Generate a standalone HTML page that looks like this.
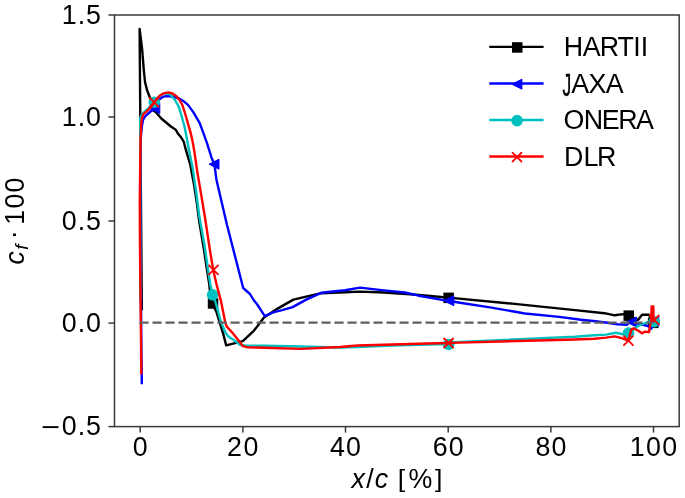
<!DOCTYPE html>
<html><head><meta charset="utf-8"><style>
html,body{margin:0;padding:0;background:#fff;}
body{width:685px;height:498px;overflow:hidden;font-family:"Liberation Sans",sans-serif;}
svg{display:block;will-change:transform;}
</style></head><body>
<svg width="685" height="498" viewBox="0 0 685 498">
<rect x="0" y="0" width="685" height="498" fill="#fff"/>
<polyline points="141.8,309.0 139.6,29.0 142.2,50.0 143.8,70.0 145.0,82.0 147.0,90.0 149.5,96.5 150.6,99.5 152.5,110.0 156.0,112.2 161.3,118.5 166.1,122.5 170.9,126.5 175.7,129.7 178.1,133.8 181.4,137.8 183.8,141.8 185.4,148.2 187.8,156.3 190.2,164.3 191.6,172.0 194.1,185.1 196.9,203.4 199.0,220.0 201.5,235.0 204.0,250.0 207.0,270.0 209.1,283.0 211.2,303.2 216.1,310.9 219.6,322.2 223.1,333.4 226.2,345.4 242.8,341.1 254.0,330.6 264.0,317.6 277.6,308.6 293.4,299.6 306.2,296.6 321.2,293.2 345.0,292.3 360.1,291.6 383.8,292.5 410.0,294.3 427.6,295.7 448.6,297.6 514.6,303.9 575.0,310.1 604.5,313.2 614.6,315.3 623.0,314.1 628.8,315.6 638.0,320.0 642.0,314.8 649.0,314.8 653.3,321.8" fill="none" stroke="#000" stroke-width="2.4" stroke-linejoin="round" stroke-linecap="square"/>
<rect x="207.8" y="298.2" width="10.5" height="10.5" fill="#000"/>
<rect x="443.4" y="292.6" width="10.5" height="10.5" fill="#000"/>
<rect x="623.5" y="310.4" width="10.5" height="10.5" fill="#000"/>
<rect x="647.9" y="317.6" width="10.5" height="10.5" fill="#000"/>
<polyline points="141.8,383.0 141.3,340.0 140.5,250.0 140.3,180.0 140.6,140.0 141.8,126.5 143.0,120.0 145.4,116.0 150.0,112.0 154.5,108.0 157.0,102.0 159.8,99.0 163.0,96.8 166.1,96.1 170.0,96.2 174.0,97.0 179.1,98.5 184.4,101.8 188.0,104.9 193.3,112.1 199.6,122.9 202.3,130.1 206.9,142.8 211.4,157.2 214.4,164.4 216.5,180.0 227.0,225.0 243.2,288.0 250.0,294.0 253.6,300.0 256.9,304.0 264.8,316.1 273.1,312.4 282.1,310.1 292.6,307.1 306.2,299.6 321.2,292.8 345.0,290.2 360.1,287.6 383.8,290.4 404.8,292.5 418.8,295.7 445.0,300.4 449.5,301.0 460.0,302.7 490.0,307.4 525.0,313.5 559.2,316.9 581.1,319.8 595.7,321.3 607.4,322.7 617.6,324.2 626.4,324.9 631.0,321.6 640.0,324.0 648.0,326.0 651.0,329.0 655.5,320.0" fill="none" stroke="#0000ff" stroke-width="2.4" stroke-linejoin="round" stroke-linecap="square"/>
<polygon points="149.8,108.5 159.8,103.5 159.8,113.5" fill="#00f" stroke="#00f" stroke-width="1" stroke-linejoin="miter"/>
<polygon points="209.0,164.2 219.0,159.2 219.0,169.2" fill="#00f" stroke="#00f" stroke-width="1" stroke-linejoin="miter"/>
<polygon points="443.8,300.7 453.8,295.7 453.8,305.7" fill="#00f" stroke="#00f" stroke-width="1" stroke-linejoin="miter"/>
<polygon points="626.5,322.0 636.5,317.0 636.5,327.0" fill="#00f" stroke="#00f" stroke-width="1" stroke-linejoin="miter"/>
<polygon points="648.8,321.3 658.8,316.3 658.8,326.3" fill="#00f" stroke="#00f" stroke-width="1" stroke-linejoin="miter"/>
<polyline points="140.3,300.0 140.2,200.0 140.2,118.0 141.5,115.2 143.6,112.6 148.5,108.2 154.3,102.2 159.0,96.5 163.0,93.8 167.0,93.3 170.0,94.5 174.3,99.0 177.7,104.7 179.6,109.0 181.9,117.3 184.7,127.2 186.8,138.4 188.9,149.7 192.7,168.3 196.2,192.2 199.1,215.0 204.1,243.1 208.3,271.2 210.4,285.0 212.6,294.8 216.1,303.9 221.0,322.2 225.2,332.0 228.0,336.2 234.4,340.4 240.0,344.7 245.6,345.8 265.0,345.8 300.0,346.5 340.0,347.5 357.0,347.0 392.0,345.5 427.0,344.5 448.6,344.0 455.0,342.1 575.0,336.8 594.0,335.2 606.0,334.6 615.8,332.8 623.0,334.2 628.5,333.0 638.0,326.0 648.0,322.0 654.8,321.3" fill="none" stroke="#00bfbf" stroke-width="2.4" stroke-linejoin="round" stroke-linecap="square"/>
<circle cx="154.3" cy="102.2" r="5.8" fill="#00bfbf"/>
<circle cx="212.6" cy="294.8" r="5.8" fill="#00bfbf"/>
<circle cx="448.6" cy="344.5" r="5.8" fill="#00bfbf"/>
<circle cx="628.5" cy="333.0" r="5.8" fill="#00bfbf"/>
<circle cx="654.3" cy="321.7" r="5.8" fill="#00bfbf"/>
<polyline points="141.3,373.4 141.0,340.0 140.0,250.0 139.8,200.0 140.5,140.0 140.9,132.0 141.2,123.5 142.0,117.7 143.4,114.1 146.3,111.6 150.6,107.6 154.2,102.3 157.0,98.5 160.0,95.5 164.0,93.3 168.5,92.4 172.5,93.5 176.7,96.5 179.5,100.0 182.3,104.8 185.4,114.5 188.2,124.4 191.0,134.2 193.1,144.0 194.9,155.0 197.0,170.0 201.1,194.1 205.1,218.2 209.9,250.0 213.2,269.8 216.7,285.0 221.0,301.1 225.2,322.2 226.6,326.4 233.0,333.4 238.6,340.4 242.8,346.1 247.0,347.2 265.0,347.8 300.0,348.9 340.0,347.0 357.5,345.5 392.6,344.5 427.6,343.5 448.6,343.0 460.0,342.6 575.0,339.5 594.1,338.8 606.1,337.6 614.6,336.4 621.8,338.2 628.3,340.5 631.3,329.6 633.7,328.4 638.0,330.5 642.1,333.2 645.1,331.6 649.1,332.1 650.1,324.6 651.3,321.0 651.6,306.5 653.3,306.5 653.6,321.0" fill="none" stroke="#ff0000" stroke-width="2.4" stroke-linejoin="round" stroke-linecap="square"/>
<path d="M149.7,97.8L158.7,106.8M149.7,106.8L158.7,97.8" stroke="#f00" stroke-width="1.8" stroke-linecap="round" fill="none"/>
<path d="M209.0,265.3L218.0,274.3M209.0,274.3L218.0,265.3" stroke="#f00" stroke-width="1.8" stroke-linecap="round" fill="none"/>
<path d="M444.1,338.5L453.1,347.5M444.1,347.5L453.1,338.5" stroke="#f00" stroke-width="1.8" stroke-linecap="round" fill="none"/>
<path d="M623.9,336.1L632.9,345.1M623.9,345.1L632.9,336.1" stroke="#f00" stroke-width="1.8" stroke-linecap="round" fill="none"/>
<path d="M649.8,315.5L658.8,324.5M649.8,324.5L658.8,315.5" stroke="#f00" stroke-width="1.8" stroke-linecap="round" fill="none"/>
<line x1="139.5" y1="322.6" x2="653.5" y2="322.6" stroke="#5f5f5f" stroke-width="2.3" stroke-dasharray="9.1 3.9"/>
<rect x="114.5" y="15.0" width="564.7" height="411.6" fill="none" stroke="#3a3a3a" stroke-width="1.5"/>
<line x1="140.2" y1="426.6" x2="140.2" y2="432.6" stroke="#3a3a3a" stroke-width="1.5"/>
<line x1="242.9" y1="426.6" x2="242.9" y2="432.6" stroke="#3a3a3a" stroke-width="1.5"/>
<line x1="345.5" y1="426.6" x2="345.5" y2="432.6" stroke="#3a3a3a" stroke-width="1.5"/>
<line x1="448.2" y1="426.6" x2="448.2" y2="432.6" stroke="#3a3a3a" stroke-width="1.5"/>
<line x1="550.9" y1="426.6" x2="550.9" y2="432.6" stroke="#3a3a3a" stroke-width="1.5"/>
<line x1="653.5" y1="426.6" x2="653.5" y2="432.6" stroke="#3a3a3a" stroke-width="1.5"/>
<line x1="108.5" y1="15.0" x2="114.5" y2="15.0" stroke="#3a3a3a" stroke-width="1.5"/>
<line x1="108.5" y1="117.0" x2="114.5" y2="117.0" stroke="#3a3a3a" stroke-width="1.5"/>
<line x1="108.5" y1="221.0" x2="114.5" y2="221.0" stroke="#3a3a3a" stroke-width="1.5"/>
<line x1="108.5" y1="323.1" x2="114.5" y2="323.1" stroke="#3a3a3a" stroke-width="1.5"/>
<line x1="108.5" y1="426.6" x2="114.5" y2="426.6" stroke="#3a3a3a" stroke-width="1.5"/>
<line x1="489.3" y1="46.9" x2="543.6" y2="46.9" stroke="#000" stroke-width="2.4"/>
<line x1="489.3" y1="83.45" x2="543.6" y2="83.45" stroke="#0000ff" stroke-width="2.4"/>
<line x1="489.3" y1="120.0" x2="543.6" y2="120.0" stroke="#00bfbf" stroke-width="2.4"/>
<line x1="489.3" y1="156.55" x2="543.6" y2="156.55" stroke="#ff0000" stroke-width="2.4"/>
<rect x="512.0" y="42.2" width="10.5" height="10.5" fill="#000"/>
<polygon points="511.9,84.2 521.9,79.2 521.9,89.2" fill="#00f" stroke="#00f" stroke-width="1" stroke-linejoin="miter"/>
<circle cx="517.1" cy="120.6" r="5.8" fill="#00bfbf"/>
<path d="M512.5,152.6L521.5,161.6M512.5,161.6L521.5,152.6" stroke="#f00" stroke-width="1.8" stroke-linecap="round" fill="none"/>
<g font-family="Liberation Sans, sans-serif" fill="#000">
<text x="61.72 77.65 85.90" y="23.50" font-size="26.8">1.5</text>
<text x="61.72 77.65 85.99" y="125.50" font-size="26.8">1.0</text>
<text x="61.85 77.65 85.90" y="229.50" font-size="26.8">0.5</text>
<text x="61.85 77.65 85.99" y="331.60" font-size="26.8">0.0</text>
<text x="61.85 77.65 85.90" y="435.10" font-size="26.8">0.5</text>
<text transform="translate(50.67,436.08) scale(1.216,1)" x="-7.83" y="0" font-size="26.8">−</text>
<text x="132.74" y="456.40" font-size="26.8">0</text>
<text x="227.06 243.49" y="456.40" font-size="26.8">20</text>
<text x="329.99 346.09" y="456.40" font-size="26.8">40</text>
<text x="432.69 448.79" y="456.40" font-size="26.8">60</text>
<text x="535.39 551.49" y="456.40" font-size="26.8">80</text>
<text x="629.81 646.04 662.14" y="456.40" font-size="26.8">100</text>
<text x="563.83 582.73 599.84 617.46 633.37 640.83" y="56.20" font-size="26.8">HARTII</text>
<text transform="translate(569.98,96.15) scale(0.65,1.203)" x="-11.41" y="0" font-size="26.8" stroke="#000" stroke-width="0.4">J</text>
<text x="571.17 588.46 605.81" y="92.75" font-size="26.8">AXA</text>
<text x="563.54 583.69 601.80 618.34 636.11" y="129.30" font-size="26.8">ONERA</text>
<text x="564.10 583.60 597.09" y="165.85" font-size="26.8">DLR</text>
<text x="351.51" y="488.20" font-size="26.8" font-style="italic">x</text>
<text x="366.31" y="488.20" font-size="26.8">/</text>
<text x="374.67" y="488.20" font-size="26.8" font-style="italic">c</text>
<text transform="translate(402.30,486.5) scale(1,0.9)" x="-4.57" y="0" font-size="26.8">[</text>
<text x="408.49" y="488.2" font-size="26.8">%</text>
<text transform="translate(437.90,486.5) scale(1,0.9)" x="-2.87" y="0" font-size="26.8">]</text>
<g transform="translate(24.4,264.8) rotate(-90)"><text x="0.37" y="0" font-size="26.8" font-style="italic">c</text>
<text x="15.01" y="3.2" font-size="18.76" font-style="italic">f</text>
<text x="25.54" y="0.00" font-size="26.8" dy="-2.02">·</text>
<text x="39.97 56.20 72.30" y="0" font-size="26.8">100</text></g>
</g>
</svg>
</body></html>
